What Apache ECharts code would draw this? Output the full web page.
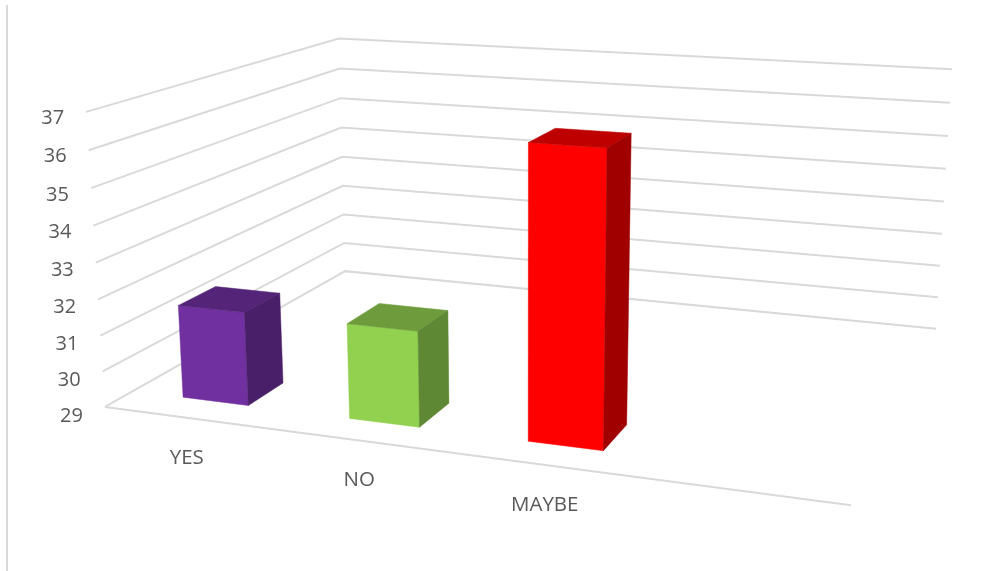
<!DOCTYPE html>
<html><head><meta charset="utf-8">
<style>html,body{margin:0;padding:0;background:#fff}#c{width:982px;height:571px}</style>
<script src="https://cdn.jsdelivr.net/npm/echarts@6/dist/echarts.min.js"></script>
</head><body><div id="c"></div>
<script>
const categories = ['YES', 'NO', 'MAYBE', ''];
const values = [31.6, 31.6, 36.7, null];
const valueTicks = [29, 30, 31, 32, 33, 34, 35, 36, 37];
const faceColors = [
  ['#7030A0', '#542478', '#481F68'],
  ['#92D050', '#6E9C3C', '#5F8834'],
  ['#FF0000', '#BF0000', '#A00000']
];
const W = 982, H = 571;
const DEPTH = [0.095, 0.23];
const BAR_SHARE = 0.40;
const BAR_NUDGE = 0.003;
// camera fit: box corner (u, v, w) -> where the corner sits in the picture
const anchors = [
  [0,0,0,105,407],[1,0,0,851,505],[0,0,1,345,271],[1,0,1,936,329],
  [0,1,0,86,112],[0,1,1,339,38.5],[1,1,1,952,69]
];
function fitCamera(pts){
  const A=[],B=[];
  pts.forEach(([u,v,w,x,y])=>{
    A.push([u,v,w,1,0,0,0,0,-x*u,-x*v,-x*w]);B.push(x);
    A.push([0,0,0,0,u,v,w,1,-y*u,-y*v,-y*w]);B.push(y);
  });
  const n=11,M=[];
  for(let i=0;i<n;i++){M.push(new Array(n+1).fill(0));
    for(let j=0;j<n;j++)A.forEach(r=>M[i][j]+=r[i]*r[j]);
    A.forEach((r,k)=>M[i][n]+=r[i]*B[k]);}
  for(let i=0;i<n;i++){let p=i;
    for(let k=i+1;k<n;k++)if(Math.abs(M[k][i])>Math.abs(M[p][i]))p=k;
    [M[i],M[p]]=[M[p],M[i]];
    for(let k=0;k<n;k++)if(k!==i){const f=M[k][i]/M[i][i];for(let j=i;j<=n;j++)M[k][j]-=f*M[i][j];}}
  return M.map((r,i)=>r[n]/r[i]);
}
const cam = fitCamera(anchors);
function project(u,v,w){
  const d=cam[8]*u+cam[9]*v+cam[10]*w+1;
  return [(cam[0]*u+cam[1]*v+cam[2]*w+cam[3])/d,(cam[4]*u+cam[5]*v+cam[6]*w+cam[7])/d];
}
// axes are hidden and fill the canvas, so their scale gives u and v directly
const toUV=(api,cat,val)=>{const p=api.coord([cat,val]);return [p[0]/W,1-p[1]/H];};
const poly=(points,fill)=>({type:'polygon',shape:{points},style:{fill,stroke:fill,lineWidth:0.5}});
const line=(points)=>({type:'polyline',shape:{points},style:{fill:'none',stroke:'#D9D9D9',lineWidth:2}});

const chart=echarts.init(document.getElementById('c'),null,{renderer:'canvas'});
chart.setOption({
  animation:false,
  backgroundColor:'#fff',
  grid:{left:0,right:0,top:0,bottom:0},
  xAxis:{type:'category',data:categories,show:false},
  yAxis:{type:'value',min:29,max:37,interval:1,show:false},
  graphic:[{type:'line',shape:{x1:7,y1:5,x2:7,y2:571},style:{stroke:'#D9D9D9',lineWidth:2},z:1}],
  series:[
    {type:'custom',z:2,silent:true,coordinateSystem:'cartesian2d',
     data:valueTicks.map(v=>[0,v]),
     encode:{x:0,y:1},
     renderItem(p,api){
       const v=toUV(api,0,api.value(1))[1];
       const pts=[project(0,v,0),project(0,v,1),project(1,v,1)];
       const kids=[line(pts)];
       if(api.value(1)===valueTicks[0])kids.push(line([project(0,v,0),project(1,v,0)]));
       const a=project(0,v,0);
       kids.push({type:'text',style:{text:String(api.value(1)),x:a[0]-22,y:a[1]+6+(1-v)*3,align:'right',verticalAlign:'middle',
         fill:'#595959',font:'20px "Open Sans"'}});
       return {type:'group',children:kids};
     }},
    {type:'custom',z:3,silent:true,coordinateSystem:'cartesian2d',
     data:categories.map((c,i)=>[i,values[i]]).filter(d=>d[1]!==null),
     encode:{x:0,y:1},
     renderItem(p,api){
       const i=api.value(0);
       const slot=api.size([1,0])[0]/W;
       const uc=toUV(api,i,29)[0]+BAR_NUDGE, v0=0, v1=toUV(api,i,api.value(1))[1];
       const u0=uc-slot*BAR_SHARE/2,u1=uc+slot*BAR_SHARE/2,[w0,w1]=DEPTH,col=faceColors[i];
       const P=(u,v,w)=>project(u,v,w);
       return {type:'group',children:[
         poly([P(u0,v1,w0),P(u1,v1,w0),P(u1,v0,w0),P(u0,v0,w0)],col[0]),
         poly([P(u0,v1,w0),P(u0,v1,w1),P(u1,v1,w1),P(u1,v1,w0)],col[1]),
         poly([P(u1,v1,w0),P(u1,v1,w1),P(u1,v0,w1),P(u1,v0,w0)],col[2])
       ]};
     }},
    {type:'custom',z:4,silent:true,coordinateSystem:'cartesian2d',
     data:categories.map((c,i)=>[i,29]).filter((d,i)=>categories[i]),
     encode:{x:0,y:1},
     renderItem(p,api){
       const i=api.value(0),a=project(toUV(api,i,29)[0],0,0);
       return {type:'text',style:{text:categories[i],x:a[0],y:a[1]+40,align:'center',verticalAlign:'middle',
         fill:'#595959',font:'20.5px "Open Sans"'}};
     }}
  ]
});
</script></body></html>
